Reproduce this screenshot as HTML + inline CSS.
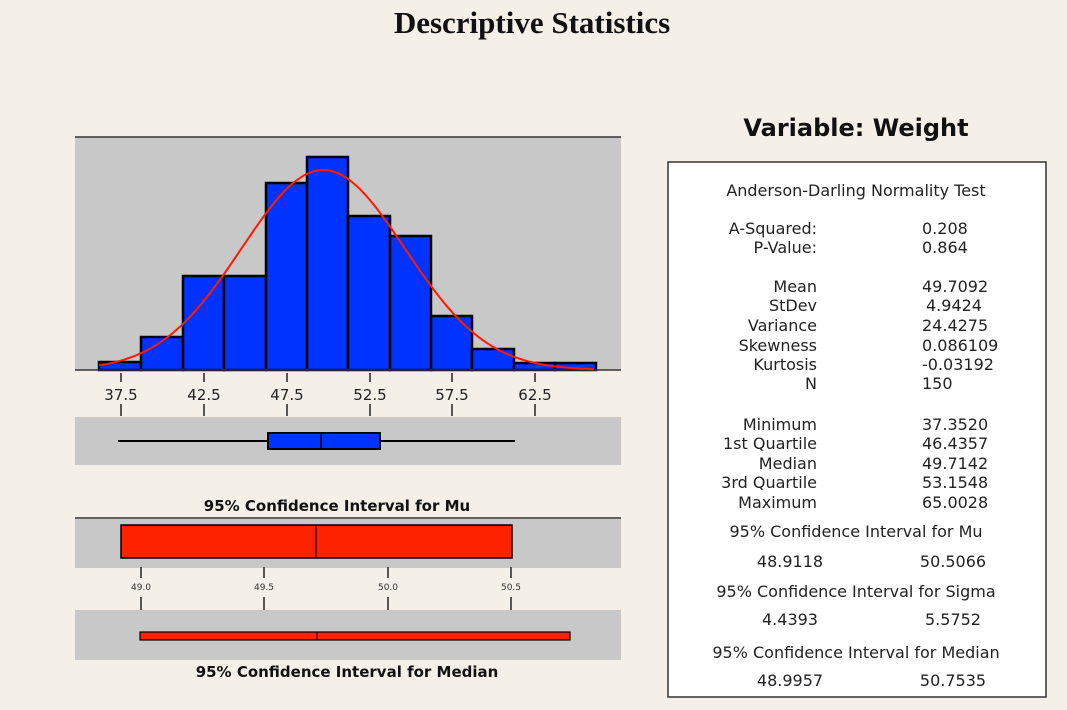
<!DOCTYPE html>
<html><head><meta charset="utf-8">
<style>
html,body{margin:0;padding:0;background:#f4efe7;}
svg{display:block}
.t{font-family:"DejaVu Sans","Liberation Sans",sans-serif;}
</style></head>
<body>
<svg width="1067" height="710" viewBox="0 0 1067 710" xmlns="http://www.w3.org/2000/svg">
<rect width="1067" height="710" fill="#f4efe7"/>
<text x="532" y="33" text-anchor="middle" font-family="Liberation Serif,serif" font-weight="bold" font-size="31" fill="#111">Descriptive Statistics</text>
<rect x="75" y="137" width="546" height="233" fill="#c8c8c8"/>
<line x1="75" y1="137" x2="621" y2="137" stroke="#333" stroke-width="1.5"/>
<g fill="#0033ff" stroke="#000" stroke-width="2.5">
<rect x="99" y="362" width="42" height="8"/>
<rect x="141" y="337" width="42" height="33"/>
<rect x="183" y="276" width="41" height="94"/>
<rect x="224" y="276" width="42" height="94"/>
<rect x="266" y="183" width="41" height="187"/>
<rect x="307" y="157" width="41" height="213"/>
<rect x="348" y="216" width="42" height="154"/>
<rect x="390" y="236" width="41" height="134"/>
<rect x="431" y="316" width="41" height="54"/>
<rect x="472" y="349" width="42" height="21"/>
<rect x="514" y="363" width="41" height="7"/>
<rect x="555" y="363" width="41" height="7"/>
</g>
<line x1="75" y1="370" x2="621" y2="370" stroke="#333" stroke-width="1.5"/>
<path id="curve" d="" fill="none" stroke="#ff1a00" stroke-width="2"/>
<g stroke="#222" stroke-width="1.5">
<line x1="121" y1="373" x2="121" y2="382"/><line x1="121" y1="404" x2="121" y2="416"/>
<line x1="204" y1="373" x2="204" y2="382"/><line x1="204" y1="404" x2="204" y2="416"/>
<line x1="287" y1="373" x2="287" y2="382"/><line x1="287" y1="404" x2="287" y2="416"/>
<line x1="370" y1="373" x2="370" y2="382"/><line x1="370" y1="404" x2="370" y2="416"/>
<line x1="452" y1="373" x2="452" y2="382"/><line x1="452" y1="404" x2="452" y2="416"/>
<line x1="535" y1="373" x2="535" y2="382"/><line x1="535" y1="404" x2="535" y2="416"/>
</g>
<g class="t" font-size="15" fill="#222" text-anchor="middle">
<text x="121" y="400">37.5</text><text x="204" y="400">42.5</text><text x="287" y="400">47.5</text>
<text x="370" y="400">52.5</text><text x="452" y="400">57.5</text><text x="535" y="400">62.5</text>
</g>
<rect x="75" y="417" width="546" height="48" fill="#c8c8c8"/>
<line x1="118" y1="441" x2="515" y2="441" stroke="#000" stroke-width="2"/>
<rect x="268" y="433" width="112" height="16" fill="#0033ff" stroke="#000" stroke-width="2"/>
<line x1="321" y1="433" x2="321" y2="449" stroke="#000" stroke-width="1.5"/>
<text x="337" y="511" text-anchor="middle" class="t" font-weight="bold" font-size="15" fill="#111">95% Confidence Interval for Mu</text>
<line x1="75" y1="518" x2="621" y2="518" stroke="#333" stroke-width="1.5"/>
<rect x="75" y="519" width="546" height="49" fill="#c8c8c8"/>
<rect x="121" y="525" width="391" height="33" fill="#ff2200" stroke="#000" stroke-width="1.5"/>
<line x1="316" y1="525" x2="316" y2="558" stroke="#000" stroke-width="1.2"/>
<g stroke="#222" stroke-width="1.5">
<line x1="141" y1="567" x2="141" y2="578"/><line x1="141" y1="597" x2="141" y2="610"/>
<line x1="264" y1="567" x2="264" y2="578"/><line x1="264" y1="597" x2="264" y2="610"/>
<line x1="388" y1="567" x2="388" y2="578"/><line x1="388" y1="597" x2="388" y2="610"/>
<line x1="511" y1="567" x2="511" y2="578"/><line x1="511" y1="597" x2="511" y2="610"/>
</g>
<g class="t" font-size="9" fill="#333" text-anchor="middle">
<text x="141" y="590">49.0</text><text x="264" y="590">49.5</text><text x="388" y="590">50.0</text><text x="511" y="590">50.5</text>
</g>
<rect x="75" y="610" width="546" height="50" fill="#c8c8c8"/>
<rect x="140" y="632" width="430" height="8" fill="#ff2200" stroke="#000" stroke-width="1.2"/>
<line x1="317" y1="632" x2="317" y2="640" stroke="#000" stroke-width="1"/>
<text x="347" y="677" text-anchor="middle" class="t" font-weight="bold" font-size="15" fill="#111">95% Confidence Interval for Median</text>
<text x="856" y="136" text-anchor="middle" class="t" font-weight="bold" font-size="24" fill="#111">Variable: Weight</text>
<rect x="668" y="162" width="378" height="535" fill="#fff" stroke="#333" stroke-width="1.5"/>
<g class="t" font-size="16" fill="#222">
<text x="856" y="196" text-anchor="middle">Anderson-Darling Normality Test</text>
<g text-anchor="end">
<text x="817" y="234">A-Squared:</text><text x="817" y="253">P-Value:</text>
<text x="817" y="292">Mean</text><text x="817" y="311">StDev</text><text x="817" y="331">Variance</text>
<text x="817" y="351">Skewness</text><text x="817" y="370">Kurtosis</text><text x="817" y="389">N</text>
<text x="817" y="430">Minimum</text><text x="817" y="449">1st Quartile</text><text x="817" y="469">Median</text>
<text x="817" y="488">3rd Quartile</text><text x="817" y="508">Maximum</text>
</g>
<g>
<text x="922" y="234">0.208</text><text x="922" y="253">0.864</text>
<text x="922" y="292">49.7092</text><text x="926" y="311">4.9424</text><text x="922" y="331">24.4275</text>
<text x="922" y="351">0.086109</text><text x="922" y="370">-0.03192</text><text x="922" y="389">150</text>
<text x="922" y="430">37.3520</text><text x="922" y="449">46.4357</text><text x="922" y="469">49.7142</text>
<text x="922" y="488">53.1548</text><text x="922" y="508">65.0028</text>
</g>
<text x="856" y="537" text-anchor="middle">95% Confidence Interval for Mu</text>
<text x="790" y="567" text-anchor="middle">48.9118</text><text x="953" y="567" text-anchor="middle">50.5066</text>
<text x="856" y="597" text-anchor="middle">95% Confidence Interval for Sigma</text>
<text x="790" y="625" text-anchor="middle">4.4393</text><text x="953" y="625" text-anchor="middle">5.5752</text>
<text x="856" y="658" text-anchor="middle">95% Confidence Interval for Median</text>
<text x="790" y="686" text-anchor="middle">48.9957</text><text x="953" y="686" text-anchor="middle">50.7535</text>
</g>
</svg>
<script>
(function(){
var d="",m=49.709,s=4.9424;
for(var px=99;px<=596;px+=3){
 var v=37.5+(px-121)/16.56;
 var y=370-200*Math.exp(-0.5*Math.pow((v-m)/s,2));
 d+=(d?"L":"M")+px+" "+y.toFixed(1);
}
document.getElementById("curve").setAttribute("d",d);
})();
</script>
</body></html>
